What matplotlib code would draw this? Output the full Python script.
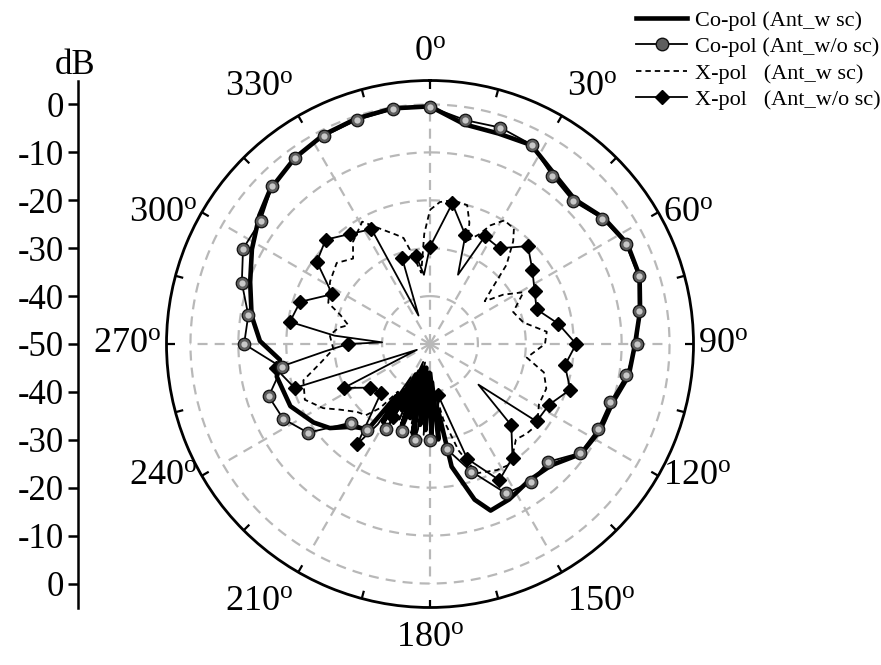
import numpy as np
import matplotlib
matplotlib.use('Agg')
import matplotlib.pyplot as plt
from matplotlib.lines import Line2D

plt.rcParams['font.family'] = ['Liberation Serif', 'DejaVu Serif']
plt.rcParams['mathtext.fontset'] = 'custom'
plt.rcParams['mathtext.rm'] = 'Liberation Serif'
plt.rcParams['mathtext.it'] = 'Liberation Serif:italic'

# ---------------- data (angle in degrees, gain in dB) ----------------
copol_wsc_ang = [0, 9, 18, 27, 36, 45, 54, 63, 72, 81, 90, 99, 108, 117, 126, 135, 144, 153, 160, 164,
                 170, 173, 175, 177, 179, 181, 183, 185, 187, 189, 191, 193, 195, 197, 199, 201, 203, 205,
                 207, 209, 211, 213, 216, 223, 230, 236, 246, 258, 264, 271, 279, 289, 298, 307, 314, 324,
                 333, 342, 351, 360]
copol_wsc_db = [-0.4, -3.6, -3.8, -3.4, -6.0, -7.3, -5.2, -3.8, -4.0, -5.6, -7.2, -8.0, -10.0, -10.2, -11.0,
                -14.2, -14.8, -13.6, -13.0, -16.2, -24.0, -36, -30, -42, -31, -44, -32, -40, -33, -45, -31,
                -41, -34, -44, -32, -40, -35, -43, -33, -39, -31, -37, -28, -26.4, -22.7, -20.7, -18.1,
                -17.3, -18.5, -14.5, -12.3, -10.3, -7.9, -5.4, -3.6, -2.0, -1.0, -0.5, -0.2, -0.4]

copol_wosc_ang = [0, 9, 18, 27, 36, 45, 54, 63, 72, 81, 90, 99, 108, 117, 126, 135, 144, 153, 162, 171,
                  173, 175, 177, 179, 180, 182, 184, 186, 188, 189, 191, 193, 195, 197, 198, 200, 202, 204,
                  206, 207, 209, 211, 213, 216, 225, 234, 243, 252, 261, 270, 279, 288, 297, 306, 315, 324,
                  333, 342, 351, 360]
copol_wosc_db = [-0.5, -2.7, -2.5, -3.3, -6.6, -7.8, -5.5, -4.1, -4.2, -5.9, -6.8, -8.5, -10.5, -10.7, -11.3,
                 -15.2, -14.3, -15.0, -22.0, -27.8, -38, -31, -44, -33, -30, -42, -31, -45, -32, -29.8, -40,
                 -33, -46, -34, -31, -41, -33, -44, -34, -30, -40, -32, -38, -27.8, -26.8, -18.5, -15.6,
                 -14.6, -18.7, -11.2, -11.6, -8.7, -6.2, -6.3, -3.4, -1.9, -1.3, -0.8, -0.4, -0.5]

xpol_wsc_ang = [0, 4, 9, 15, 18, 20, 24, 27, 31, 36, 39, 44, 49, 52, 56, 61, 69, 77, 84, 90, 98, 104, 111,
                119, 127, 133, 138, 146, 152, 160, 165, 170, 174, 178, 182, 186, 190, 194, 198, 202, 206,
                210, 214, 218, 222, 227, 234, 239, 246, 254, 260, 267, 275, 280, 283, 288, 292, 302, 311,
                318, 323, 331, 336, 343, 346, 349, 353, 357, 360]
xpol_wsc_db = [-22, -20.3, -19.6, -20, -23.4, -27, -25, -22.2, -19.9, -20.2, -22.4, -27, -33.4, -35.5, -31.6,
               -27.7, -31.4, -30, -25.5, -26, -29.6, -25.5, -24, -24, -22, -22.5, -23.2, -19.8, -20.2, -21.3,
               -27, -34, -40, -33, -44, -36, -42, -35, -45, -37, -42, -34, -38, -33, -30, -29.2, -26.7, -24,
               -21.4, -22.5, -26.7, -29.8, -29, -30.6, -32.5, -30.3, -27.1, -25.4, -24.2, -26, -23.3, -20.8,
               -23.5, -26.2, -27.2, -31, -35, -27, -22]

xpol_wosc_ang = [0, 9, 18, 22, 27, 36, 45, 54, 63, 72, 81, 90, 99, 108, 117, 126, 130, 135, 144, 153, 162,
                 171, 174, 177, 180, 183, 186, 189, 192, 195, 198, 201, 204, 207, 210, 213, 216, 225, 234,
                 243, 246, 252, 261, 266, 270, 272, 275, 279, 288, 297, 306, 315, 324, 333, 338, 342, 351,
                 355, 360]
xpol_wosc_db = [-29.7, -20.3, -26.1, -34.4, -24.8, -25.3, -21.1, -23.6, -25.5, -26.6, -22.9, -19.5, -21.5,
                -19.2, -22.1, -22.5, -36.8, -26.0, -20.7, -18.1, -24.8, -39.2, -33, -42, -36, -44, -35, -38,
                -45, -34, -40, -46, -36, -33, -42, -30, -24.2, -35.5, -34.5, -29.8, -47, -20.3, -17.4, -28,
                -32.9, -40, -30, -20.4, -21.5, -27.1, -20.8, -19.2, -21.6, -23.1, -43.6, -31.2, -31.4,
                -35.5, -29.7]

angle_ticks = [0, 30, 60, 90, 120, 150, 180, 210, 240, 270, 300, 330]
angle_labels = ['0', '30', '60', '90', '120', '150', '180', '210', '240', '270', '300', '330']
db_ticks = [0, -10, -20, -30, -40, -50]
grid_db = [-40, -30, -20, -10, 0]
series_labels = ['Co-pol (Ant_w sc)', 'Co-pol (Ant_w/o sc)', 'X-pol   (Ant_w sc)', 'X-pol   (Ant_w/o sc)']

# ---------------- figure ----------------
W, H = 881, 665
fig = plt.figure(figsize=(W / 100, H / 100), dpi=100)
cx, cy, R = 430, 344, 263.5
rmin, rmax = -50, 5
px_per_db = R / (rmax - rmin)

ax = fig.add_axes([(cx - R) / W, (H - cy - R) / H, 2 * R / W, 2 * R / H], projection='polar')
ax.set_theta_zero_location('N')
ax.set_theta_direction(-1)
ax.set_ylim(rmin, rmax)
ax.grid(False)
ax.set_yticks([])
ax.set_xticks([])
ax.spines['polar'].set_linewidth(2.0)
ax.patch.set_alpha(0)

# inward ticks on the outer ring every 15 degrees
tick_len_db = 8 / px_per_db
for a in range(0, 360, 15):
    ax.plot([np.deg2rad(a)] * 2, [rmax, rmax - tick_len_db], color='black', lw=1.6,
            solid_capstyle='butt', clip_on=False, zorder=8)

gcol = '#b8b8b8'
gls = (0, (4.5, 3.2))
th_full = np.linspace(0, 2 * np.pi, 721)
for g in grid_db:
    ax.plot(th_full, np.full_like(th_full, g), color=gcol, lw=1.6, ls=gls, zorder=1)
for a in angle_ticks:
    ax.plot([np.deg2rad(a)] * 2, [rmin, 0], color=gcol, lw=1.6, ls=gls, zorder=1)


def mask9(angs):
    return [(a % 9 == 0) and a < 360 for a in angs]


ax.plot(np.deg2rad(xpol_wsc_ang), xpol_wsc_db, color='black', lw=1.3, ls=(0, (3.0, 2.2)), zorder=3)
ax.plot(np.deg2rad(xpol_wosc_ang), xpol_wosc_db, color='black', lw=1.3, marker='D', ms=7,
        mfc='black', mec='black', markevery=mask9(xpol_wosc_ang), zorder=4)
ax.plot(np.deg2rad(copol_wsc_ang), copol_wsc_db, color='black', lw=3.3, zorder=5)
ax.plot(np.deg2rad(copol_wosc_ang), copol_wosc_db, color='black', lw=1.3, marker='o', ms=9,
        mfc='#5e5e5e', mec='#111111', mew=0.9, markevery=mask9(copol_wosc_ang), zorder=6)
ax.plot(np.deg2rad(copol_wosc_ang), copol_wosc_db, ls='none', marker='o', ms=4.5,
        mfc='#c8c8c8', mec='none', markevery=mask9(copol_wosc_ang), zorder=7)

# angle labels outside the outer ring
for a, lab in zip(angle_ticks, angle_labels):
    s, c = np.sin(np.deg2rad(a)), np.cos(np.deg2rad(a))
    px = cx + R * s
    py = cy - R * c
    if abs(c) > 0.6:
        va = 'bottom' if c > 0 else 'top'
        py -= 13 * np.sign(c)
    else:
        va = 'center'
    if abs(s) > 0.3:
        ha = 'left' if s > 0 else 'right'
        px += 5 * np.sign(s)
    else:
        ha = 'center'
    fig.text(px / W, 1 - py / H, lab + r'$^{\mathrm{o}}$', ha=ha, va=va, fontsize=26)

# left dB scale
ax2 = fig.add_axes([77.5 / W, (H - cy - R) / H, 0.0001, 2 * R / H])
ax2.set_ylim(-(rmax - rmin), rmax - rmin)
for sp in ['right', 'top', 'bottom']:
    ax2.spines[sp].set_visible(False)
ax2.spines['left'].set_linewidth(1.8)
pos = [d - rmin for d in db_ticks] + [-(d - rmin) for d in db_ticks[:-1]]
labs = [str(d) for d in db_ticks] + [str(d) for d in db_ticks[:-1]]
ax2.set_yticks(pos)
ax2.set_yticklabels(labs, fontsize=25)
ax2.set_yticks([p + 5 for p in range(-55, 50, 10)], minor=True)
ax2.tick_params(axis='y', which='major', length=7, width=1.8, pad=3)
ax2.tick_params(axis='y', which='minor', length=4.5, width=1.8)
ax2.set_xticks([])
fig.text(75 / W, 1 - 66 / H, 'dB', ha='center', va='center', fontsize=25)

# legend
handles = [
    Line2D([], [], color='black', lw=3.3),
    Line2D([], [], color='black', lw=1.3, marker='o', ms=9, mfc='#5e5e5e', mec='#111111'),
    Line2D([], [], color='black', lw=1.3, ls=(0, (3.0, 2.2))),
    Line2D([], [], color='black', lw=1.3, marker='D', ms=7, mfc='black'),
]
fig.legend(handles, series_labels, loc='upper left', bbox_to_anchor=(636 / W, 1 - 10 / H),
           frameon=False, fontsize=16, handlelength=2.3, handletextpad=0.35, labelspacing=0.27,
           borderaxespad=0, borderpad=0)

fig.savefig('out.png', dpi=100)
